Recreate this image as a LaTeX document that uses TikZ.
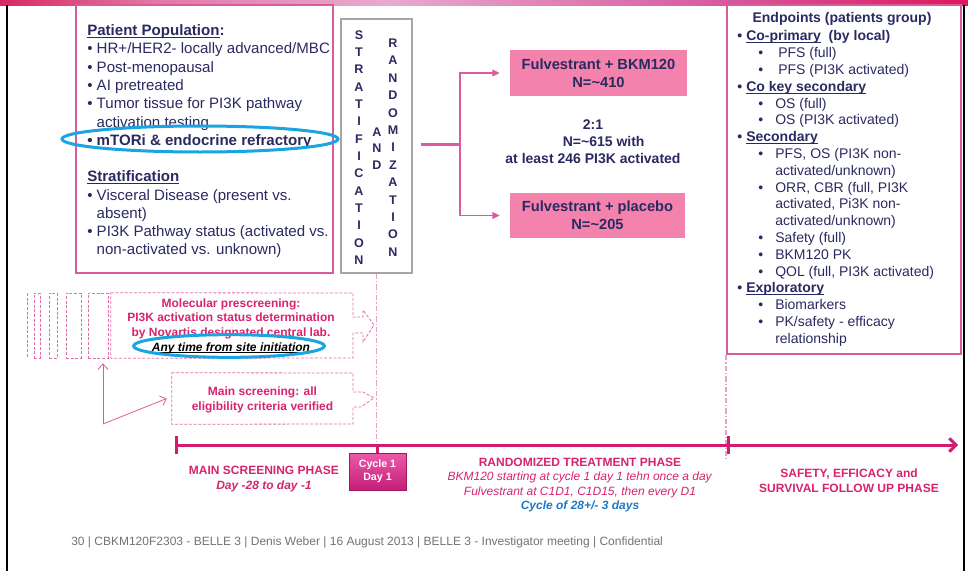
\documentclass[tikz,border=0pt]{standalone}
\usepackage{fontspec}
\setmainfont{Liberation Sans}
\usetikzlibrary{fit,calc,arrows.meta,shapes.geometric,shadows}
\definecolor{navy}{RGB}{42,42,98}
\definecolor{pinkbox}{RGB}{214,92,158}
\definecolor{pinkline}{RGB}{222,90,160}
\definecolor{boxfill}{RGB}{243,130,172}
\definecolor{mag}{RGB}{214,36,110}
\definecolor{tlc}{RGB}{208,30,110}
\definecolor{dashc}{RGB}{226,110,170}
\definecolor{dashlight}{RGB}{236,160,200}
\definecolor{cyanc}{RGB}{25,165,225}
\definecolor{bluet}{RGB}{30,120,200}
\definecolor{grayt}{RGB}{115,115,115}
\definecolor{cycTop}{RGB}{236,90,170}
\definecolor{cycBot}{RGB}{196,30,120}
\definecolor{barA}{RGB}{216,40,100}
\definecolor{barB}{RGB}{226,120,165}
\definecolor{barC}{RGB}{232,170,205}
\definecolor{barD}{RGB}{216,90,160}
\definecolor{barE}{RGB}{222,24,90}
\pgfdeclarehorizontalshading{topbar}{100bp}{color(0bp)=(barA); color(25bp)=(barA); color(33bp)=(barB); color(45bp)=(barC); color(62bp)=(barD); color(75bp)=(barE); color(100bp)=(barE)}
\newsavebox\ulbox
\newcommand\uln[1]{\sbox\ulbox{#1}\rlap{\rule[-0.17em]{\wd\ulbox}{0.075em}}\usebox\ulbox}
\newcommand\topb{\makebox[6.75pt][l]{•}}
\newcommand\subb{\hspace*{15.75pt}\makebox[12.75pt][l]{•}}
\newcommand\contb{\hspace*{28.5pt}}
\newcommand\popc{\hphantom{• }}
\begin{document}
\begin{tikzpicture}[x=0.75pt,y=-0.75pt,
  boxline/.style={draw=pinkbox,line width=1.5pt,inner sep=0pt},
  navytxt/.style={text=navy,inner sep=0pt},
  dashbox/.style={draw=dashc,line width=0.6pt,dash pattern=on 2.2pt off 1.3pt},
  dashdot/.style={draw=dashlight,line width=1pt,dash pattern=on 4pt off 1.5pt on 1pt off 1.5pt},
  branch/.style={draw=pinkline,line width=1.2pt,-{Triangle[length=5.5pt,width=5pt]}},
  smallarr/.style={draw=pinkline,line width=0.6pt,-{Straight Barb[length=4pt,width=7.5pt]}},
  armbox/.style={fill=boxfill,text=navy,align=center,font=\bfseries\fontsize{11}{13.5}\selectfont},
  magtxt/.style={text=mag,align=center,inner sep=0pt},
  tl/.style={draw=tlc,line width=2.25pt},
  ring/.style={draw=cyanc,line width=2.25pt,ellipse,inner sep=0pt}]
\useasboundingbox (0,0) rectangle (968,571);
\fill[white] (0,0) rectangle (968,571);
\shade[shading=topbar] (0,0) rectangle (968,5);
\draw[black,line width=1.6pt] (7,5) -- (7,571);
\draw[black,line width=1.6pt] (964,5) -- (964,571);

% Patient population box
\node (popbox) [boxline,fit={(76,5)(333,273)}] {};
\node (poptext) [navytxt,anchor=north west,align=left,font=\fontsize{11.3}{13.7}\selectfont] at (87,24.5) {%
\textbf{\uln{Patient Population}:}\\
• HR+/HER2- locally advanced/MBC\\
• Post-menopausal\\
• AI pretreated\\
• Tumor tissue for PI3K pathway\\
\popc activation testing\\
\textbf{• mTORi \& endocrine refractory}\\[13.7pt]
\textbf{\uln{Stratification}}\\
• Visceral Disease (present vs.\\
\popc absent)\\
• PI3K Pathway status (activated vs.\\
\popc non-activated vs. unknown)};
\node (mtorring) [ring,minimum width=207pt,minimum height=19.5pt] at (200,139) {};

% Stratification box
\node (stratbox) [fit={(341,19)(412,273)},draw=black!35,line width=0.8pt,inner sep=0pt] {};
\node (stratL) [navytxt,align=center,font=\bfseries\fontsize{9.4}{13}\selectfont] at (359,147.5) {S\\T\\R\\A\\T\\I\\F\\I\\C\\A\\T\\I\\O\\N};
\node (stratA) [navytxt,align=center,font=\bfseries\fontsize{9.4}{12.4}\selectfont] at (377,148.5) {A\\N\\D};
\node (stratR) [navytxt,align=center,font=\bfseries\fontsize{9.4}{13.05}\selectfont] at (393,147.5) {R\\A\\N\\D\\O\\M\\I\\Z\\A\\T\\I\\O\\N};

% arms
\node (arm1) [armbox,minimum width=132.75pt,minimum height=34.5pt] at (598.5,73) {Fulvestrant + BKM120\\N=\textasciitilde410};
\node (arm2) [armbox,minimum width=131.25pt,minimum height=33.75pt] at (597.5,215.5) {Fulvestrant + placebo\\N=\textasciitilde205};
\coordinate (brS) at ($(stratbox.east)+(8,-2)$);
\coordinate (brM) at (460,144);
\draw[draw=pinkline,line width=2.25pt] (brS) -- (brM);
\draw[branch,shorten >=7.5pt] (brM) |- (arm1.west);
\draw[branch,shorten >=7.5pt] (brM) |- (arm2.west);
\node (ratio) [navytxt,align=center,font=\bfseries\fontsize{10.5}{12.75}\selectfont] at (593,142) {2:1\\\hspace*{16pt}N=\textasciitilde615 with\\at least 246 PI3K activated};

% Endpoints box
\node (endbox) [boxline,fit={(727,5)(961,354)}] {};
\node (endtitle) [navytxt,font=\bfseries\fontsize{10.5}{12.6}\selectfont] at (842,19) {Endpoints (patients group)};
\node (endlist) [navytxt,anchor=north west,align=left,font=\fontsize{10.5}{12.6}\selectfont] at (737,30.5) {%
\textbf{\topb\uln{Co-primary}\ \ (by local)}\\
\subb\hspace*{2.25pt}PFS (full)\\
\subb\hspace*{2.25pt}PFS (PI3K activated)\\
\textbf{\topb\uln{Co key secondary}}\\
\subb OS (full)\\
\subb OS (PI3K activated)\\
\textbf{\topb\uln{Secondary}}\\
\subb PFS, OS (PI3K non-\\
\contb activated/unknown)\\
\subb ORR, CBR (full, PI3K\\
\contb activated, Pi3K non-\\
\contb activated/unknown)\\
\subb Safety (full)\\
\subb BKM120 PK\\
\subb QOL (full, PI3K activated)\\
\textbf{\topb\uln{Exploratory}}\\
\subb Biomarkers\\
\subb PK/safety - efficacy\\
\contb relationship};

% dashed prescreening
\draw[dashbox] (27,293) -- (27,358);
\node (pre1) [dashbox,fit={(34,293)(40,358)},inner sep=0pt] {};
\node (pre2) [dashbox,fit={(49,293)(57,358)},inner sep=0pt] {};
\node (pre3) [dashbox,fit={(66,293)(81,358)},inner sep=0pt] {};
\node (pre4) [dashbox,fit={(88,293)(108,358)},inner sep=0pt] {};
\node (prebox) [fit={(111,293)(353,358)},inner sep=0pt] {};
\draw[dashbox] (prebox.north west) -- (353,293) -- (353,317) -- (363,317) -- (363,310) -- (374,325) -- (363,342) -- (363,333) -- (353,333) -- (353,358) -- (prebox.south west) -- cycle;
\node (pretext) [magtxt,font=\bfseries\fontsize{9}{11}\selectfont] at (231,326) {Molecular prescreening:\\PI3K activation status determination\\by Novartis designated central lab.\\\textcolor{black}{\textit{\uln{Any time from site initiation}}}};
\node (anyring) [ring,minimum width=143pt,minimum height=17pt] at (229,346) {};

\node (mainbox) [fit={(172,373)(353,424)},inner sep=0pt] {};
\draw[dashbox] (mainbox.north west) -- (353,373) -- (353,392) -- (363,392) -- (374,398) -- (361,407) -- (353,407) -- (353,424) -- (mainbox.south west) -- cycle;
\node (maintext) [magtxt,font=\bfseries\fontsize{9}{11.25}\selectfont] at (262.5,399.5) {Main screening: all\\eligibility criteria verified};

\coordinate (fork) at (103,424);
\draw[smallarr] (fork) -- ($(fork |- pre4.south)+(0,5)$);
\draw[smallarr] (fork) -- ($(mainbox.west)+(-5,0)$);

% vertical dash-dot guides
\coordinate (tlS) at (176,445);
\coordinate (tlE) at (958,445);
\draw[dashdot] (stratbox.south) -- (stratbox.south |- tlS);
\draw[dashdot] (endbox.south west) -- ($(endbox.south west |- tlS)+(0,14)$);

% timeline
\draw[tl,-{Straight Barb[length=5pt,width=10pt]}] (tlS) -- (tlE);
\draw[tl] (176,436) -- (176,454);
\draw[tl] (728,436) -- (728,454);
\node (cyc) [minimum width=42.75pt,minimum height=27.75pt,top color=cycTop,bottom color=cycBot,draw=cycBot!80!black,line width=0.4pt,align=center,text=white,font=\bfseries\fontsize{8}{9.4}\selectfont,drop shadow={opacity=0.35,shadow xshift=1pt,shadow yshift=-1pt}] at (377.5,471.5) {Cycle 1\\Day 1};
\draw[tl] (cyc.north) -- (cyc.north |- tlS);

\node (ph1) [magtxt,font=\bfseries\fontsize{9}{11.25}\selectfont] at (264,479.5) {MAIN SCREENING PHASE\\\textit{Day -28 to day -1}};
\node (ph2) [magtxt,font=\fontsize{9}{10.7}\selectfont] at (580,485) {\textbf{RANDOMIZED TREATMENT PHASE}\\\textit{BKM120 starting at cycle 1 day 1 tehn once a day}\\\textit{Fulvestrant at C1D1, C1D15, then every D1}\\\textcolor{bluet}{\textbf{\textit{Cycle of 28+/- 3 days}}}};
\node (ph3) [magtxt,font=\bfseries\fontsize{9}{11.25}\selectfont] at (849,480.5) {SAFETY, EFFICACY and\\SURVIVAL FOLLOW UP PHASE};

\node (footer) [text=grayt,inner sep=0pt,anchor=west,font=\fontsize{9}{11}\selectfont] at (71,542) {30 | CBKM120F2303 - BELLE 3 | Denis Weber | 16 August 2013 | BELLE 3 - Investigator meeting | Confidential};
\end{tikzpicture}
\end{document}
